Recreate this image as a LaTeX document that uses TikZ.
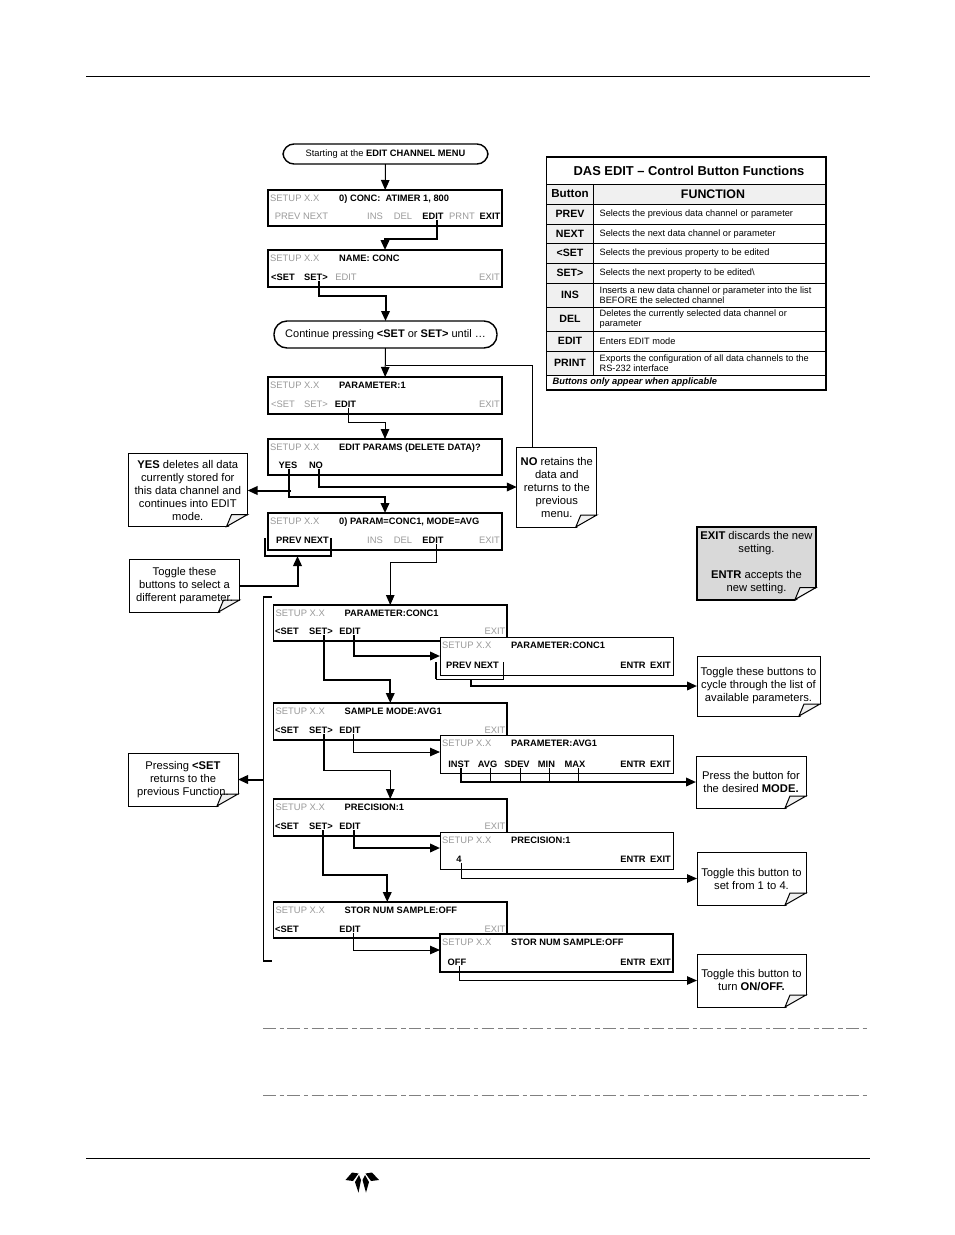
\documentclass[tikz,border=0pt]{standalone}
\usepackage{fontspec}
\setmainfont{Liberation Sans}
\usetikzlibrary{arrows.meta,calc}
\definecolor{dimtext}{HTML}{9A9A9A}
\definecolor{cellgray}{HTML}{F0F0F0}
\definecolor{notegray}{HTML}{D9D9D9}
\definecolor{dashgray}{HTML}{808080}
\tikzset{
  scrn/.style={draw,fill=white,inner sep=0pt,outer sep=0pt},
  setup/.style={anchor=west,inner sep=0pt,text height=7pt,text depth=0pt,text=dimtext,font=\fontsize{9.4}{10}\selectfont},
  scrtitle/.style={anchor=west,inner sep=0pt,text height=7pt,text depth=0pt,font=\fontsize{9.3}{10}\selectfont\bfseries},
  btn/.style={inner sep=0pt,outer sep=0pt,text height=6.5pt,text depth=0.5pt,font=\fontsize{9.3}{10}\selectfont\bfseries},
  gbtn/.style={inner sep=0pt,outer sep=0pt,text height=6.5pt,text depth=0.5pt,text=dimtext,font=\fontsize{9.4}{10}\selectfont},
  term/.style={draw,line width=1.4pt,rounded corners=11pt,inner sep=0pt,outer sep=0pt},
  note/.style={draw,line width=1pt,fill=white,inner sep=0pt,outer sep=0pt},
  notetext/.style={inner sep=0pt,align=center,font=\fontsize{11.2}{13}\selectfont},
  thickline/.style={line width=2pt,-{Triangle[length=10pt,width=8.5pt]}},
  thinline/.style={line width=1pt,-{Triangle[length=10pt,width=8.5pt]}},
  tablekey/.style={inner sep=0pt,font=\fontsize{10.6}{12}\selectfont\bfseries},
  tabletext/.style={anchor=west,inner sep=0pt,align=left,font=\fontsize{9.2}{10}\selectfont},
}
% box, grey SETUP label and title of one display
\newcommand{\screen}[7][1.4pt]{
  \node[scrn,line width=#1,minimum width={(#5-#3)*1pt},minimum height={(#6-#4)*1pt}] (#2) at ({(#3+#5)/2},{(#4+#6)/2}) {};
  \node[setup] (#2setup) at ({#3+2},{#4+8}) {SETUP X.X};
  \node[scrtitle] (#2title) at ({#3+71},{#4+8}) {#7};
}
% note with a turned corner, its text on top
\newcommand{\notebox}[7][]{
  \node[note,#1,minimum width=#5pt,minimum height=#6pt] (#2) at (#3,#4) {};
  \fill[white] ([shift={(1.5,1.5)}]#2.south east) -- ([shift={(-21,1.5)}]#2.south east) -- ([shift={(1.5,-12)}]#2.south east) -- cycle;
  \draw[line width=1pt,fill=cellgray] ([shift={(-21,0)}]#2.south east) -- ([shift={(-16,-12)}]#2.south east) -- ([shift={(0,-12)}]#2.south east) -- cycle;
  \node[notetext] (#2text) at (#3,#4) {#7};
}
\begin{document}
\begin{tikzpicture}[x=1pt,y=-1pt]
  \path[use as bounding box,fill=white] (0,0) rectangle (954,1235);
  % page furniture
  \coordinate (topl) at (86,76);
  \coordinate (topr) at (870,76);
  \coordinate (botl) at (86,1158);
  \coordinate (botr) at (870,1158);
  \coordinate (dasha) at (263,1028);
  \coordinate (dashb) at (868,1028);
  \coordinate (dashc) at (263,1095);
  \coordinate (dashd) at (868,1095);
  \draw[line width=1pt] (topl) to (topr);
  \draw[line width=1pt] (botl) to (botr);
  \draw[line width=1pt,dashgray,dash pattern=on 12.5pt off 4pt on 4.5pt off 3.3pt] (dasha) to (dashb);
  \draw[line width=1pt,dashgray,dash pattern=on 12.5pt off 4pt on 4.5pt off 3.3pt] (dashc) to (dashd);
  \fill (345.5,1180) -- (352,1172.5) -- (358.5,1173.5) -- (353,1181) -- cycle;
  \fill (359,1175) -- (355,1182) -- (358.5,1192.5) -- (361,1180) -- cycle;
  \fill (365,1175) -- (362.5,1180) -- (366,1192.5) -- (369,1182) -- cycle;
  \fill (365.5,1173.5) -- (372,1172.5) -- (379,1180) -- (371,1181) -- cycle;

  % table of button functions
  \fill[cellgray] (546.5,184) rectangle (826,204);
  \fill[cellgray] (546.5,204) rectangle (593,375);
  \draw[line width=1.2pt] (546.5,157) rectangle (826,390);
  \node[font=\fontsize{12.9}{14}\selectfont\bfseries,inner sep=0pt] (tabtitle) at (689,170.5) {DAS EDIT -- Control Button Functions};
  \node[font=\fontsize{11.6}{14}\selectfont\bfseries,inner sep=0pt] (tabbutton) at (570,194) {Button};
  \node[font=\fontsize{12.4}{14}\selectfont\bfseries,inner sep=0pt] (tabfunction) at (713,194) {FUNCTION};
  \foreach \i/\ya/\yb/\key/\desc in {
      1/204/224/PREV/{Selects the previous data channel or parameter},
      2/224/243.5/NEXT/{Selects the next data channel or parameter},
      3/243.5/263/<SET/{Selects the previous property to be edited},
      4/263/283/SET>/{Selects the next property to be edited\textbackslash},
      5/283/307.5/INS/{Inserts a new data channel or parameter into the list\\BEFORE the selected channel},
      6/307.5/331/DEL/{Deletes the currently selected data channel or\\parameter},
      7/331/351/EDIT/{Enters EDIT mode},
      8/351/375/PRINT/{Exports the configuration of all data channels to the\\RS-232 interface}}{
    \draw[line width=1pt] (546.5,\yb) to (826,\yb);
    \node[tablekey] (key\i) at (570,{(\ya+\yb)/2}) {\key};
    \node[tabletext] (desc\i) at (599.5,{(\ya+\yb)/2}) {\desc};
  }
  \draw[line width=1pt] (546.5,184) to (826,184);
  \draw[line width=1pt] (546.5,204) to (826,204);
  \draw[line width=1pt] (593,184) to (593,375);
  \node[anchor=west,inner sep=0pt,font=\fontsize{9.3}{10}\selectfont\bfseries\itshape] (tabfoot) at (552.5,382.5) {Buttons only appear when applicable};

  % flow nodes
  \node[term,minimum width=205pt,minimum height=20pt,font=\fontsize{9.3}{10}\selectfont] (start) at (385.5,154) {Starting at the \textbf{EDIT CHANNEL MENU}};
  \node[term,minimum width=223pt,minimum height=27pt,rounded corners=13pt,font=\fontsize{11}{12}\selectfont] (cont) at (385.5,334.5) {Continue pressing \textbf{<SET} or \textbf{SET>} until \dots};
  \screen{sa}{268}{190}{502}{226}{0) CONC:\ \ ATIMER 1, 800}
  \screen{sb}{268}{250}{502}{287}{NAME: CONC}
  \screen{sc}{268}{377}{502}{414}{PARAMETER:1}
  \screen{sd}{268}{439}{502}{475}{EDIT PARAMS (DELETE DATA)?}
  \screen{se}{268}{513}{502}{550}{0) PARAM=CONC1, MODE=AVG}
  \screen{pa}{273.5}{605}{507}{641}{PARAMETER:CONC1}
  \screen[1pt]{qa}{440}{637}{673}{675}{PARAMETER:CONC1}
  \screen{pb}{273.5}{703}{507}{740}{SAMPLE MODE:AVG1}
  \screen[1pt]{qb}{440}{735}{673}{773}{PARAMETER:AVG1}
  \screen{pc}{273.5}{799}{507}{836}{PRECISION:1}
  \screen[1pt]{qc}{440}{832}{673}{869}{PRECISION:1}
  \screen[1.2pt]{pd}{273.5}{902}{507}{938}{STOR NUM SAMPLE:OFF}
  \screen{qd}{440}{934}{673}{972}{STOR NUM SAMPLE:OFF}

  % buttons that are live
  \foreach \n/\x/\y/\t in {
      saedit/433/216/EDIT, saexit/490/216/EXIT,
      sbprev/283/277/<SET, sbnext/316/277/SET>,
      scedit/345.5/404/EDIT,
      sdyes/288/465/YES, sdno/316/465/NO,
      sepn/302.5/540.5/PREV NEXT, seedit/433/540.5/EDIT,
      paprev/287/631.5/<SET, panext/321/631.5/SET>, paedit/350/631.5/EDIT,
      qapn/472.5/665/PREV NEXT, qaentr/633/665/ENTR, qaexit/660.5/665/EXIT,
      pbprev/287/730.5/<SET, pbnext/321/730.5/SET>, pbedit/350/730.5/EDIT,
      qbinst/459/764/INST, qbavg/487.5/764/AVG, qbsdev/517/764/SDEV, qbmin/546.5/764/MIN, qbmax/575/764/MAX,
      qbentr/633/764/ENTR, qbexit/660.5/764/EXIT,
      pcprev/287/826.5/<SET, pcnext/321/826.5/SET>, pcedit/350/826.5/EDIT,
      qcfour/459/859/4, qcentr/633/859/ENTR, qcexit/660.5/859/EXIT,
      pdprev/287/929/<SET, pdedit/350/929/EDIT,
      qdoff/457/962/OFF, qdentr/633/962/ENTR, qdexit/660.5/962/EXIT}
    \node[btn] (\n) at (\x,\y) {\t};
  % buttons that are greyed out
  \foreach \n/\x/\y/\t in {
      sapn/301.5/216/PREV NEXT, sains/375/216/INS, sadel/403/216/DEL, saprnt/462/216/PRNT,
      sbedit/346/277/EDIT, sbexit/489.5/277/EXIT,
      scprev/283/404/<SET, scnext/316/404/SET>, scexit/489.5/404/EXIT,
      seins/375/540.5/INS, sedel/403/540.5/DEL, seexit/489.5/540.5/EXIT,
      paexit/495/631.5/EXIT, pbexit/495/730.5/EXIT, pcexit/495/826.5/EXIT, pdexit/495/929/EXIT}
    \node[gbtn] (\n) at (\x,\y) {\t};

  % notes
  \notebox{yesnote}{187.8}{490}{119.5}{73}{\textbf{YES} deletes all data\\currently stored for\\this data channel and\\continues into EDIT\\mode.}
  \notebox{nonote}{556.8}{487}{80}{80}{\textbf{NO} retains the\\data and\\returns to the\\previous\\menu.}
  \notebox{togglenote}{184.5}{585.5}{110}{53}{Toggle these\\buttons to select a\\different parameter.}
  \notebox[line width=2pt,fill=notegray]{exitnote}{756.5}{563}{119}{73}{\textbf{EXIT} discards the new\\setting.\\[13pt]\textbf{ENTR} accepts the\\new setting.}
  \notebox{cyclenote}{758.5}{686}{123}{60}{Toggle these buttons to\\cycle through the list of\\available parameters.}
  \notebox{pressnote}{751}{782}{110}{52}{Press the button for\\the desired \textbf{MODE.}}
  \notebox{setnote}{751.5}{878.5}{109}{53}{Toggle this button to\\set from 1 to 4.}
  \notebox{offnote}{751.5}{980.5}{109}{53}{Toggle this button to\\turn \textbf{ON/OFF.}}
  \notebox{backnote}{183}{779.5}{110}{53}{Pressing \textbf{<SET}\\returns to the\\previous Function.}

  % bends that are not on a node
  \coordinate (contjoin) at (385.5,365);
  \coordinate (yesjoin) at (291,490.5);
  \coordinate (nextbrk) at (297.5,556);
  \coordinate (sebrka) at (264.5,538);
  \coordinate (sebrkb) at (264.5,556);
  \coordinate (sebrkc) at (331,556);
  \coordinate (sebrkd) at (331,538);
  \coordinate (qabrka) at (436,662);
  \coordinate (qabrkb) at (436,679);
  \coordinate (qabrkc) at (503,679);
  \coordinate (qabrkd) at (503,662);
  \coordinate (qabrkm) at (470.5,679);
  \coordinate (sidea) at (272,597);
  \coordinate (sideb) at (263.5,597);
  \coordinate (sidec) at (263.5,961);
  \coordinate (sided) at (272,961);
  \coordinate (sidem) at (263.5,779.5);

  \begin{scope}[thinline]
    \draw (start) to (sa);
    \draw (cont) to (sc);
    \draw ([xshift=2.5pt]scedit.south) -- ++(0,15) -| (sd.north);
    \draw ([xshift=3.5pt]seedit.south) -- ++(0,18) -| (pa.north);
    \draw ([xshift=3pt]pbedit.south) |- ([yshift=2pt]qb.west);
    \draw ([xshift=3pt]pbnext.south) -- ++(0,36.5) -| (pc.north);
    \draw ([xshift=3pt]pdedit.south) |- ([yshift=3pt]qd.west);
    \draw ([xshift=2pt]qcfour.south) |- (setnote.west);
    \draw ([xshift=2pt]qdoff.south) |- (offnote.west);
  \end{scope}
  \begin{scope}[thickline]
    \draw ([xshift=3.5pt]saedit.south) -- ++(0,19.5) -| (sb.north);
    \draw ([xshift=3pt]sbnext.south) -- ++(0,15.5) -| (cont.north);
    \draw ([xshift=1pt]sdyes.south) -- ++(0,28.5) -| (se.north);
    \draw (yesjoin) to (yesnote.east |- yesjoin);
    \draw ([xshift=3pt]sdno.south) |- (nonote.west |- 0,487);
    \draw (togglenote.east) -| (nextbrk);
    \draw ([xshift=3pt]panext.south) -- ++(0,44.5) -| (pb.north);
    \draw ([xshift=3.5pt]paedit.south) |- (qa.west);
    \draw (qabrkm) |- (cyclenote.west);
    \draw ([xshift=3.5pt]pcedit.south) |- ([yshift=2.5pt]qc.west);
    \draw ([xshift=2pt]pcnext.south) -- ++(0,45) -| ([xshift=-3pt]pd.north);
    \draw ([xshift=2pt]qbinst.south) |- (pressnote.west);
    \draw (sidem) to (backnote.east |- sidem);
  \end{scope}
  \begin{scope}[-]
    \draw[line width=1pt] (contjoin) -| ([xshift=-24pt]nonote.north);
    \draw[line width=2pt] (sebrka) -- (sebrkb) -- (sebrkc) -- (sebrkd);
    \draw[line width=2pt] (qabrka) -- (qabrkb);
    \draw[line width=1pt] (qabrkb) -- (qabrkc) -- (qabrkd);
    \draw[line width=1.2pt] (sidea) -- (sideb) -- (sidec) -- (sided);
    \draw[line width=2pt] ([xshift=3pt]pbnext.south) -- ++(0,36.5);
    \foreach \n in {qbavg,qbsdev,qbmin,qbmax}
      \draw[line width=1pt] ([xshift=3pt]\n.south) -- ([xshift=3pt]\n.south |- pressnote.west);
  \end{scope}
\end{tikzpicture}
\end{document}
